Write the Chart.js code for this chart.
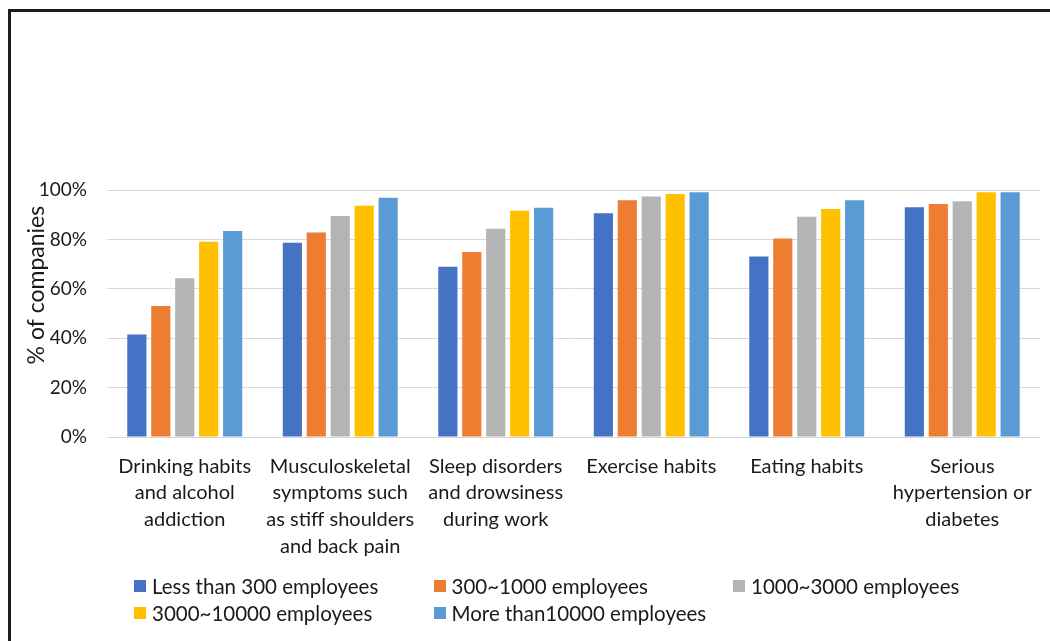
<!DOCTYPE html>
<html>
<head>
<meta charset="utf-8">
<script src="https://cdn.jsdelivr.net/npm/chart.js@4/dist/chart.umd.min.js"></script>
<style>
  html, body { margin: 0; padding: 0; background: #ffffff; }
  body { width: 1050px; height: 641px; position: relative; overflow: hidden; font-family: Lato, "Open Sans", sans-serif; }
  #frame { position: absolute; left: 8px; top: 9px; width: 1100px; height: 700px;
           border-top: 3px solid #1c1c1c; border-left: 3px solid #1c1c1c; box-sizing: border-box; }
  #chart { position: absolute; left: 0; top: 0; }
  #legend { position: absolute; left: 134px; top: 574px; display: grid;
            grid-template-columns: 299.5px 299.5px 299.5px; row-gap: 3px; }
  .item { display: flex; align-items: center; height: 24px; font-size: 20.5px; color: #1a1a1a; white-space: nowrap; }
  .box { width: 12px; height: 12px; margin-right: 6px; flex: none; }
</style>
</head>
<body>
<div id="frame"></div>
<canvas id="chart" width="1050" height="641"></canvas>
<div id="legend"></div>
<script>
// Health issues covered by the companies' programmes
const categories = [
  ['Drinking habits', 'and alcohol', 'addiction'],
  ['Musculoskeletal', 'symptoms such', 'as stiff shoulders', 'and back pain'],
  ['Sleep disorders', 'and drowsiness', 'during work'],
  ['Exercise habits'],
  ['Eating habits'],
  ['Serious', 'hypertension or', 'diabetes']
];

const seriesNames = [
  'Less than 300 employees',
  '300~1000 employees',
  '1000~3000 employees',
  '3000~10000 employees',
  'More than10000 employees'
];

// share of companies (%) per company size
const lessThan300   = [41.5, 78.6, 68.9, 90.6, 73.1, 93.0];
const from300to1000 = [53.0, 82.8, 74.9, 95.8, 80.4, 94.3];
const from1000to3000 = [64.3, 89.5, 84.3, 97.4, 89.2, 95.4];
const from3000to10000 = [79.0, 93.6, 91.6, 98.4, 92.3, 99.1];
const moreThan10000 = [83.4, 96.9, 92.8, 99.1, 95.8, 99.1];

const yTicks = [0, 20, 40, 60, 80, 100];
const yTitle = '% of companies';

const seriesValues = [lessThan300, from300to1000, from1000to3000, from3000to10000, moreThan10000];
const seriesColors = ['#4472C4', '#ED7D31', '#B4B4B4', '#FFC000', '#5B9BD5'];

const FONT = 'Lato, "Open Sans", sans-serif';
const TEXT = '#1a1a1a';

// Rotated y-axis title, placed a little above the middle of the value axis
const yTitlePlugin = {
  id: 'yTitle',
  afterDraw(chart) {
    const { ctx, scales } = chart;
    const y = scales.y;
    const cy = y.top + (y.bottom - y.top) * 0.385;
    ctx.save();
    ctx.translate(37, cy);
    ctx.rotate(-Math.PI / 2);
    ctx.font = '23px ' + FONT;
    ctx.fillStyle = TEXT;
    ctx.textAlign = 'center';
    ctx.textBaseline = 'middle';
    ctx.fillText(yTitle, 0, 0);
    ctx.restore();
  }
};

const chart = new Chart(document.getElementById('chart'), {
  type: 'bar',
  data: {
    labels: categories,
    datasets: seriesNames.map((name, i) => ({
      label: name,
      data: seriesValues[i],
      backgroundColor: seriesColors[i],
      borderWidth: 0,
      categoryPercentage: 0.77,
      barPercentage: 0.8
    }))
  },
  plugins: [yTitlePlugin],
  options: {
    responsive: false,
    animation: false,
    devicePixelRatio: 1,
    layout: { padding: { top: 190, left: 0, right: 10, bottom: 0 } },
    plugins: {
      legend: { display: false },
      tooltip: { enabled: false }
    },
    scales: {
      x: {
        grid: { display: false, drawTicks: false },
        border: { display: true, color: '#d9d9d9', width: 1 },
        ticks: {
          padding: 16,
          maxRotation: 0,
          autoSkip: false,
          color: TEXT,
          font: { family: FONT, size: 20, lineHeight: 1.33 }
        },
        afterFit(scale) { scale.height = 204; }
      },
      y: {
        min: 0,
        max: 100,
        afterBuildTicks(scale) { scale.ticks = yTicks.map(v => ({ value: v })); },
        grid: { color: '#d9d9d9', lineWidth: 1, drawTicks: false },
        border: { display: false },
        ticks: {
          padding: 20,
          color: TEXT,
          font: { family: FONT, size: 19 },
          callback: v => v + '%'
        },
        title: { display: false },
        afterFit(scale) { scale.width = 107; }
      }
    }
  }
});

// Legend laid out in three columns, built from the chart's datasets
const legendEl = document.getElementById('legend');
chart.data.datasets.forEach(ds => {
  const item = document.createElement('div');
  item.className = 'item';
  const box = document.createElement('span');
  box.className = 'box';
  box.style.background = ds.backgroundColor;
  const txt = document.createElement('span');
  txt.textContent = ds.label;
  item.appendChild(box);
  item.appendChild(txt);
  legendEl.appendChild(item);
});
</script>
</body>
</html>
